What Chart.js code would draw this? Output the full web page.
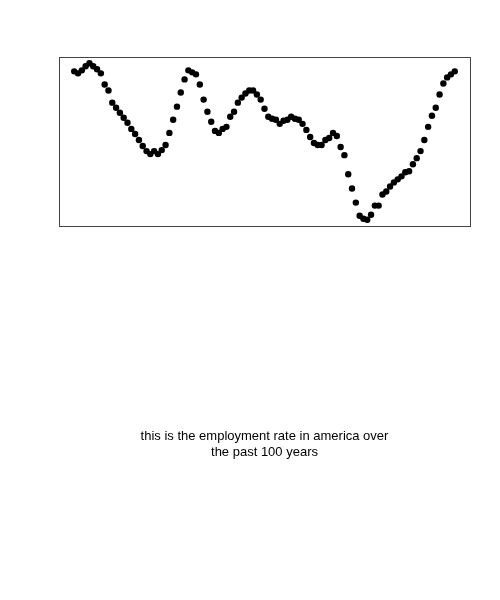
<!DOCTYPE html>
<html>
<head>
<meta charset="utf-8">
<script src="https://cdn.jsdelivr.net/npm/chart.js@4.4.1/dist/chart.umd.min.js"></script>
<style>
  html, body { margin: 0; padding: 0; background: #fff; }
  #wrap { position: relative; width: 500px; height: 600px; }
  #note {
    position: absolute; left: 59px; width: 411px; top: 428px;
    text-align: center; font-family: "Liberation Sans", Arial, sans-serif;
    font-size: 13px; line-height: 16px; color: #000;
  }
</style>
</head>
<body>
<div id="wrap">
  <canvas id="chart" width="500" height="600"></canvas>
  <div id="note">this is the employment rate in america over<br>the past 100 years</div>
</div>
<script>
// one point per year (no axes shown, so units are relative)
const years = [];
for (let i = 1; i <= 101; i++) years.push(i);
const rate = [
  157, 155, 158, 162, 165, 162, 159, 155, 144, 138,
  126, 121, 116, 111, 106, 100, 95, 89, 83, 78,
  75, 78, 75, 79, 84, 96, 109, 122, 136, 149,
  158, 156, 154, 144, 129, 117, 107, 98, 96, 100,
  102, 112, 117, 126, 131, 135, 138, 138, 134, 129,
  120, 112, 110, 109, 105, 108, 109, 112, 110, 109,
  105, 99, 92, 86, 84, 84, 89, 91, 96, 93,
  82, 74, 55, 41, 27, 14, 11, 10, 15, 24,
  24, 35, 38, 43, 47, 50, 53, 57, 58, 65,
  71, 78, 89, 102, 113, 121, 134, 145, 151, 154,
  157
];

// R style range: data range padded by 4% each side
function padRange(arr){
  let lo = Math.min(...arr), hi = Math.max(...arr), d = (hi-lo)*0.04;
  return [lo-d, hi+d];
}
const xr = padRange(years), yr = padRange(rate);

const boxPlugin = {
  id: 'box',
  afterDraw(chart){
    const a = chart.chartArea, ctx = chart.ctx;
    ctx.save();
    ctx.strokeStyle = '#444';
    ctx.lineWidth = 1;
    ctx.strokeRect(Math.round(a.left)+0.5, Math.round(a.top)+0.5,
                   Math.round(a.right-a.left), Math.round(a.bottom-a.top));
    ctx.restore();
  }
};

new Chart(document.getElementById('chart').getContext('2d'), {
  type: 'scatter',
  data: {
    datasets: [{
      data: years.map((y,i)=>({x:y, y:rate[i]})),
      backgroundColor: '#000',
      borderWidth: 0,
      pointRadius: 3.2,
      pointHoverRadius: 3.2
    }]
  },
  options: {
    responsive: false,
    animation: false,
    layout: { padding: { left: 59, right: 30, top: 57, bottom: 374 } },
    plugins: { legend: {display:false}, tooltip: {enabled:false} },
    scales: {
      x: { type:'linear', min: xr[0], max: xr[1], display: false },
      y: { type:'linear', min: yr[0], max: yr[1], display: false }
    }
  },
  plugins: [boxPlugin]
});
</script>
</body>
</html>
